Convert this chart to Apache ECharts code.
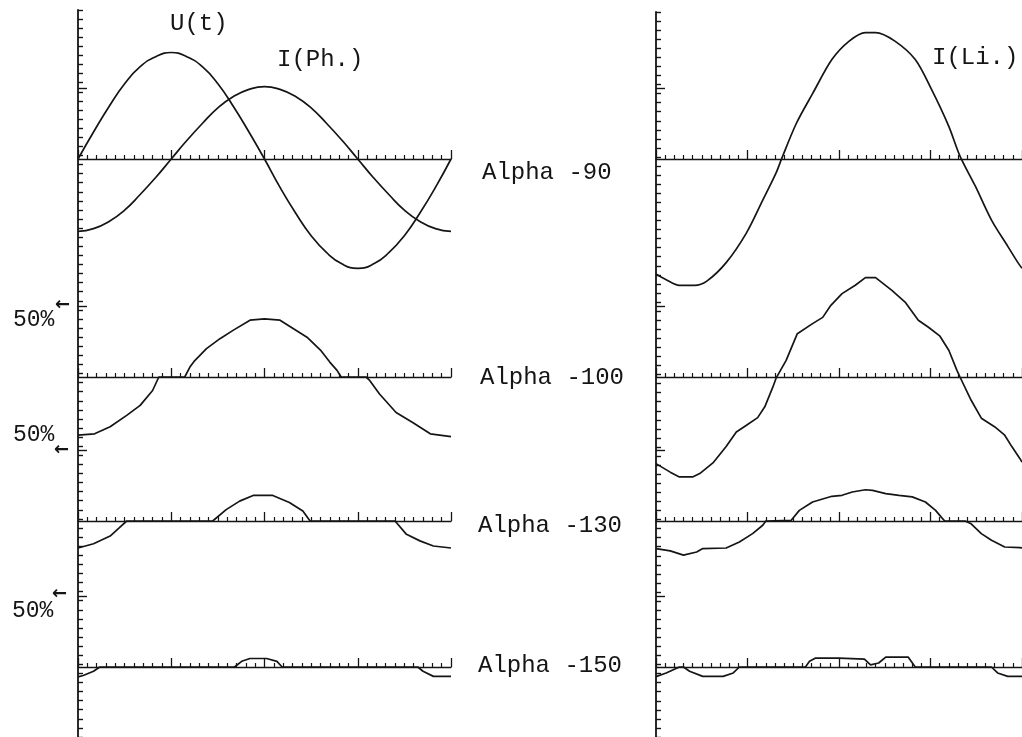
<!DOCTYPE html>
<html>
<head>
<meta charset="utf-8">
<script src="https://cdn.jsdelivr.net/npm/echarts@6/dist/echarts.min.js"></script>
<style>
html,body{margin:0;padding:0;background:#fff;}
#c{width:1022px;height:737px;}
</style>
</head>
<body>
<div id="c"></div>
<script>
// ---- data (angle in degrees, value in % of scale) ----
const angles15 = [0,15,30,45,60,75,90,105,120,135,150,165,180,195,210,225,240,255,270,285,300,315,330,345,360];
const uT    = [0,19,37,53,65,72,75,72,65,53,37,19,0,-20,-38,-54,-66,-74,-77,-74,-66,-54,-38,-20,0];
const iPh90 = [-51,-49,-44,-36,-25,-13,0,13,25,36,44,49,51,49,44,36,25,13,0,-13,-25,-36,-44,-49,-51];

const iPh100 = [[0,-41],[16,-40],[31,-35],[47,-27],[60,-20],[72,-9.5],[78,0],[103,0],[108,7],[112,11],[124,20],[137,27],[150,33],[166,40],[180,41],[195,40],[208,34],[221,28],[234,19],[243,10.5],[250,4.7],[254,0],[278,0],[281,-2],[291,-12],[307,-25],[323,-32],[340,-40],[360,-42]];
const iPh130 = [[0,-19],[15,-16],[31,-10.6],[40,-4.7],[47,0],[130,0],[143,8],[156,14],[169,18],[188,18],[204,13],[217,7],[224,0],[306,0],[317,-9.4],[330,-14],[343,-17.6],[360,-19]];
const iPh150 = [[0,-7],[5,-6],[15,-3],[21,0],[151,0],[158,4],[166,6],[182,6],[192,4],[197,0],[328,0],[333,-3],[343,-6.6],[360,-6.6]];

const iLi90  = [[0,-81],[10,-85],[23,-89],[38,-89],[50,-86],[69,-73],[89,-52],[105,-29],[118,-10],[124,1],[138,25],[154,46],[173,70],[190,83],[206,89],[216,89],[235,83],[255,70],[271,49],[288,23],[299,2],[314,-19],[330,-43],[346,-61.5],[356,-73],[360,-77]];
const iLi100 = [[0,-61],[14,-67],[23,-70.4],[36,-70.4],[43,-68],[56,-60.5],[69,-49],[79,-38.7],[89,-34],[100,-28.6],[107,-21],[115,-7],[118,-1],[128,11.7],[139,30.5],[154,37.6],[164,42],[172,50.5],[183,58.7],[196,64.6],[206,70],[216,70],[232,61],[245,52.8],[258,40],[268,35],[279,29],[288,18.8],[296,4.7],[299,0],[310,-16.4],[320,-29],[333,-35],[343,-41],[350,-49],[358,-57.5],[360,-60]];
const iLi130 = [[0,-19.4],[14,-21],[27,-24],[40,-21.8],[46,-19.4],[69,-19],[82,-14.8],[95,-8.9],[105,-3],[108,0],[133,0.5],[141,7.5],[154,13.4],[173,17.4],[183,18.1],[193,20.4],[206,22],[213,21.6],[226,19.3],[239,18.1],[252,17],[265,13.4],[275,7.5],[281,2.4],[284,0],[304,0],[310,-2],[320,-8.9],[330,-13.6],[343,-18.3],[358,-18.7],[360,-19]];
const iLi150 = [[0,-6.8],[10,-4.2],[23,0],[27,0],[33,-3],[46,-6.6],[66,-6.6],[76,-4.2],[82,0],[147,0],[151,4],[157,6.3],[180,6.3],[205,5.5],[211,1.5],[219,2.8],[226,7],[248,7],[255,0],[330,0],[336,-4.2],[346,-6.6],[360,-6.6]];

const rowLabels = ['Alpha -90','Alpha -100','Alpha -130','Alpha -150'];
const curveLabels = ['U(t)','I(Ph.)','I(Li.)'];
const pctLabel = '50%';
const pctTickValue = [50];

// ---- layout ----
const INK = '#151515';
const FONT = '24px "Liberation Mono", monospace';
const baselines = [159, 377, 521, 667];
const rowMin = [-100, -100, -100, -45];   // lower bound of each row's scale (keeps grids inside the canvas)
const pxPerUnit = 1.42;
const panels = [{left:78, width:373}, {left:656, width:368}];

const grid = [], xAxis = [], yAxis = [], series = [];

// long vertical axes
[{left:78, top:10, height:727},{left:656, top:12, height:725}].forEach((g,i)=>{
  grid.push({left:g.left, top:g.top, width:10, height:g.height});
  xAxis.push({gridIndex:i, type:'value', show:false, min:0, max:1});
  yAxis.push({gridIndex:i, type:'value', min:0, max:80, interval:1,
    axisLine:{show:true, lineStyle:{color:INK, width:1.8}},
    axisTick:{show:true, inside:true, length:5, lineStyle:{color:INK, width:1.4}},
    axisLabel:{show:false}, splitLine:{show:false}});
});

// row grids
const rowAxisIndex = [[],[]];
panels.forEach((p,pi)=>{
  baselines.forEach((b,ri)=>{
    const idx = grid.length;
    rowAxisIndex[pi][ri] = idx;
    grid.push({left:p.left, width:p.width, top:b-100*pxPerUnit, height:(100-rowMin[ri])*pxPerUnit});
    xAxis.push({gridIndex:idx, type:'value', min:0, max:360, interval:90,
      axisLine:{show:true, onZero:true, lineStyle:{color:INK, width:1.4}},
      axisTick:{show:true, inside:true, length:9, lineStyle:{color:INK, width:1.3}},
      minorTick:{show:true, splitNumber:10, length:4, lineStyle:{color:INK, width:1.2}},
      axisLabel:{show:false}, splitLine:{show:false}, minorSplitLine:{show:false}});
    yAxis.push({gridIndex:idx, type:'value', min:rowMin[ri], max:100,
      axisLine:{show:false},
      axisTick:{show:true, inside:true, length:9, customValues:pctTickValue, lineStyle:{color:INK, width:1.4}},
      axisLabel:{show:false}, splitLine:{show:false}});
  });
});

function addLine(ai, data, smooth){
  series.push({type:'line', xAxisIndex:ai, yAxisIndex:ai, data:data, showSymbol:false,
    smooth:smooth, lineStyle:{color:INK, width:1.7}, silent:true});
}
addLine(rowAxisIndex[0][0], angles15.map((a,i)=>[a,uT[i]]), true);
addLine(rowAxisIndex[0][0], angles15.map((a,i)=>[a,iPh90[i]]), true);
addLine(rowAxisIndex[0][1], iPh100, false);
addLine(rowAxisIndex[0][2], iPh130, false);
addLine(rowAxisIndex[0][3], iPh150, false);
addLine(rowAxisIndex[1][0], iLi90, 0.3);
addLine(rowAxisIndex[1][1], iLi100, false);
addLine(rowAxisIndex[1][2], iLi130, false);
addLine(rowAxisIndex[1][3], iLi150, false);

// ---- text annotations ----
function txt(t, x, y, font){
  return {type:'text', x:x, y:y, silent:true,
    style:{text:t, font:font||FONT, fill:INK, textVerticalAlign:'middle', verticalAlign:'middle', textAlign:'left', align:'left'}};
}
const rowLabelPos = [[482,173],[480,378],[478,526],[478,666]];
const graphic = [];
rowLabels.forEach((t,i)=>graphic.push(txt(t, rowLabelPos[i][0], rowLabelPos[i][1])));
graphic.push(txt(curveLabels[0], 170, 24));
graphic.push(txt(curveLabels[1], 277, 60));
graphic.push(txt(curveLabels[2], 932, 58));
[[13,320,55,305],[13,435,54,450],[12,611,52,594]].forEach(p=>{
  graphic.push(txt(pctLabel, p[0], p[1], '23px "Liberation Mono", monospace'));
  graphic.push(txt('\u2190', p[2], p[3], 'bold 18px "DejaVu Sans"'));
});

const chart = echarts.init(document.getElementById('c'), null, {renderer:'canvas'});
chart.setOption({
  backgroundColor:'#ffffff',
  animation:false,
  grid:grid, xAxis:xAxis, yAxis:yAxis, series:series, graphic:graphic
});
</script>
</body>
</html>
